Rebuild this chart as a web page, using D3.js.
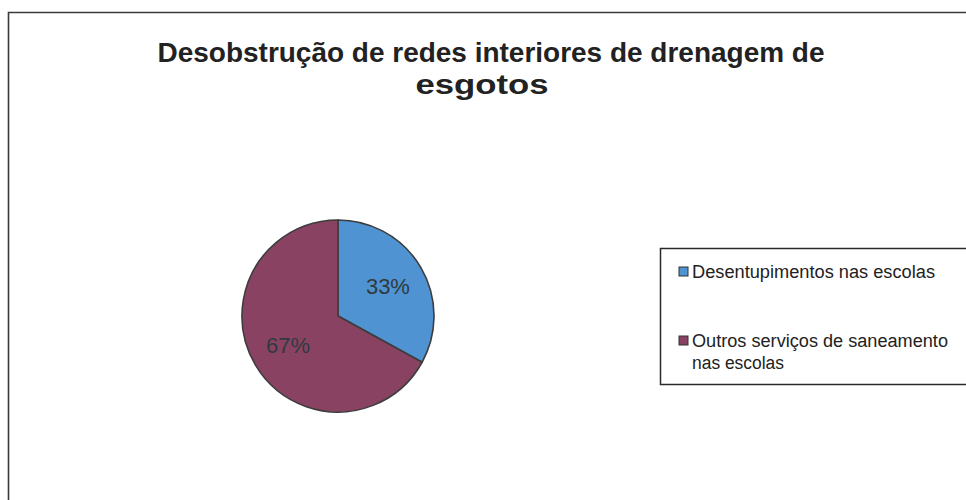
<!DOCTYPE html>
<html>
<head>
<meta charset="utf-8">
<script src="https://cdn.jsdelivr.net/npm/d3@7"></script>
<style>
  html, body { margin: 0; padding: 0; background: #fff; }
  svg { display: block; }
</style>
</head>
<body>
<svg id="chart" width="966" height="500"></svg>
<script>
// ---- data ----
const titleLines = ["Desobstrução de redes interiores de drenagem de", "esgotos"];
const categories = ["Desentupimentos nas escolas", "Outros serviços de saneamento nas escolas"];
const legendLines = [["Desentupimentos nas escolas"], ["Outros serviços de saneamento", "nas escolas"]];
const values = [33, 67];
const valueLabels = ["33%", "67%"];
const colors = ["#4f93d3", "#8a4262"];

const svg = d3.select("#chart");
const font = "'Liberation Sans', Arial, sans-serif";

// chart frame (extends past the window on right and bottom)
svg.append("path")
  .attr("d", "M8.5,520 L8.5,12.5 L980,12.5")
  .attr("fill", "none").attr("stroke", "#3a3a3a").attr("stroke-width", 1.6);

// title
const titleSpec = [{x: 491, y: 62, len: 667}, {x: 482, y: 94, len: 133}];
svg.selectAll("text.title").data(titleLines).join("text")
  .attr("class", "title")
  .attr("x", (d, i) => titleSpec[i].x)
  .attr("y", (d, i) => titleSpec[i].y)
  .attr("text-anchor", "middle")
  .attr("font-family", font).attr("font-weight", "bold")
  .attr("font-size", 28).attr("fill", "#222")
  .attr("textLength", (d, i) => titleSpec[i].len)
  .attr("lengthAdjust", "spacingAndGlyphs")
  .text(d => d);

// pie
const cx = 338, cy = 316, r = 96;
const pie = d3.pie().sort(null).value(d => d)(values);
const arc = d3.arc().innerRadius(0).outerRadius(r);
const labelArc = d3.arc().innerRadius(58).outerRadius(58);
const g = svg.append("g").attr("transform", `translate(${cx},${cy})`);
g.selectAll("path").data(pie).join("path")
  .attr("d", arc)
  .attr("fill", (d, i) => colors[i])
  .attr("stroke", "#3d3d3d").attr("stroke-width", 1.6).attr("stroke-linejoin", "round");
g.selectAll("text").data(pie).join("text")
  .attr("transform", d => { const c = labelArc.centroid(d); return `translate(${c[0]},${c[1]})`; })
  .attr("text-anchor", "middle").attr("dy", "0.36em")
  .attr("font-family", font).attr("font-size", 22).attr("fill", "#2f3a3f")
  .attr("textLength", 44).attr("lengthAdjust", "spacingAndGlyphs")
  .text((d, i) => valueLabels[i]);

// legend
const lg = svg.append("g");
lg.append("path")
  .attr("d", "M980,248.5 L660.5,248.5 L660.5,384.5 L980,384.5")
  .attr("fill", "#fff").attr("stroke", "#2a2a2a").attr("stroke-width", 1.5);
const entryY = [272, 341];
const legendLens = [[243], [256, 92]];
categories.forEach((c, i) => {
  lg.append("rect")
    .attr("x", 679).attr("y", entryY[i] - 5).attr("width", 9).attr("height", 9)
    .attr("fill", colors[i]).attr("stroke", "#333").attr("stroke-width", 1);
  legendLines[i].forEach((t, j) => {
    lg.append("text")
      .attr("x", 692).attr("y", entryY[i] + j * 22)
      .attr("dy", "0.36em")
      .attr("font-family", font).attr("font-size", 18).attr("fill", "#222")
      .attr("textLength", legendLens[i][j])
      .attr("lengthAdjust", "spacingAndGlyphs")
      .text(t);
  });
});
</script>
</body>
</html>
